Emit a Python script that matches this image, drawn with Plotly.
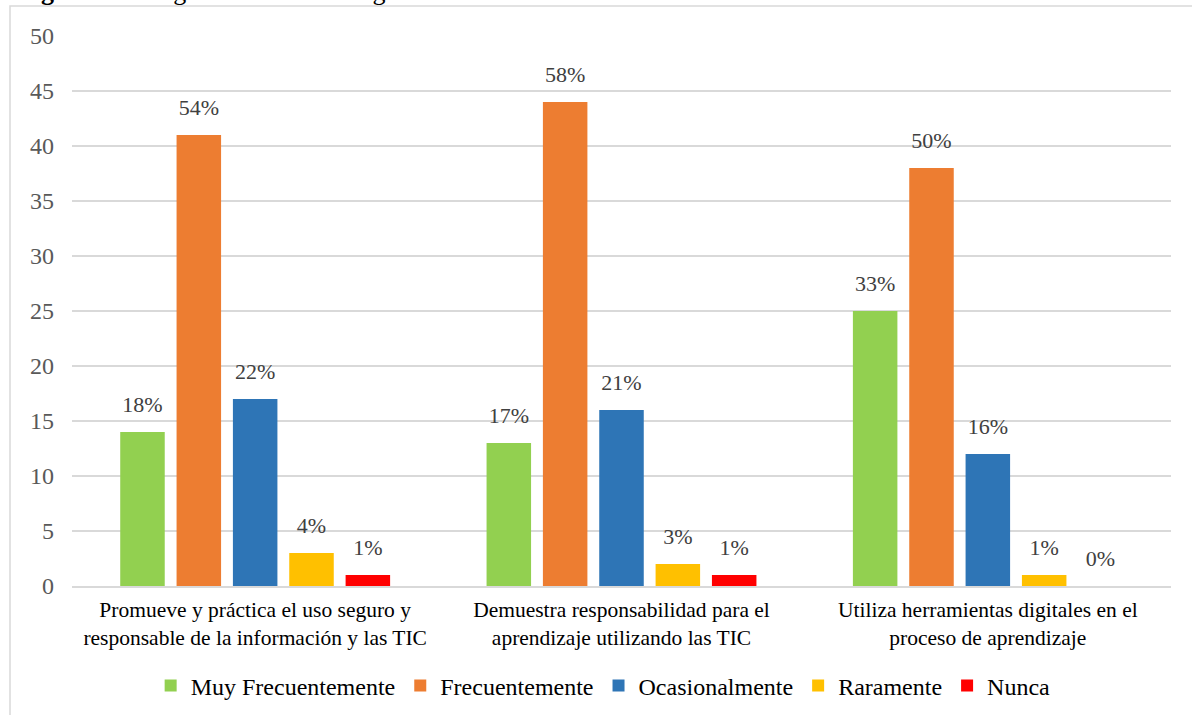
import plotly.graph_objects as go

categories = [
    "Promueve y práctica el uso seguro y<br>responsable de la información y las TIC",
    "Demuestra responsabilidad para el<br>aprendizaje utilizando las TIC",
    "Utiliza herramientas digitales en el<br>proceso de aprendizaje",
]
series_names = ["Muy Frecuentemente", "Frecuentemente", "Ocasionalmente", "Raramente", "Nunca"]
values = {
    "Muy Frecuentemente": [14, 13, 25],
    "Frecuentemente": [41, 44, 38],
    "Ocasionalmente": [17, 16, 12],
    "Raramente": [3, 2, 1],
    "Nunca": [1, 1, 0],
}
percent_labels = {
    "Muy Frecuentemente": ["18%", "17%", "33%"],
    "Frecuentemente": ["54%", "58%", "50%"],
    "Ocasionalmente": ["22%", "21%", "16%"],
    "Raramente": ["4%", "3%", "1%"],
    "Nunca": ["1%", "1%", "0%"],
}
colors = ["#92D050", "#ED7D31", "#2E75B6", "#FFC000", "#FF0000"]
y_ticks = [0, 5, 10, 15, 20, 25, 30, 35, 40, 45, 50]

FONT = "Liberation Serif"
L, R, T, B = 72, 21, 36, 129
W, H = 1192, 715
PW, PH = W - L - R, H - T - B
BARGAP = 0.231

fig = go.Figure()
for i, (name, color) in enumerate(zip(series_names, colors)):
    fig.add_trace(go.Bar(
        name=name,
        x=categories,
        y=values[name],
        offsetgroup=str(i),
        marker=dict(color=color, line=dict(width=0)),
        hoverinfo="skip",
    ))
for i, name in enumerate(series_names):
    fig.add_trace(go.Scatter(
        x=categories,
        y=values[name],
        offsetgroup=str(i),
        mode="markers+text",
        marker=dict(size=22, opacity=0),
        text=percent_labels[name],
        textposition="top center",
        textfont=dict(family=FONT, size=22, color="#404040"),
        cliponaxis=False,
        showlegend=False,
        hoverinfo="skip",
    ))

fig.update_layout(
    width=W,
    height=H,
    barmode="group",
    scattermode="group",
    bargap=BARGAP,
    scattergap=BARGAP,
    bargroupgap=0.21,
    plot_bgcolor="white",
    paper_bgcolor="white",
    margin=dict(l=L, r=R, t=T, b=B),
    font=dict(family=FONT, color="#404040"),
    legend=dict(
        orientation="h",
        xref="container", yref="container",
        x=0.506, xanchor="center",
        y=(H - 686) / H, yanchor="middle",
        font=dict(family=FONT, size=24, color="#000000"),
        itemwidth=30,
        traceorder="normal",
    ),
    xaxis=dict(
        automargin=False,
        showgrid=False,
        showline=True,
        linecolor="#D9D9D9",
        linewidth=1.5,
        ticks="",
        ticklabelstandoff=3,
        tickfont=dict(family=FONT, size=21.5, color="#000000"),
    ),
    yaxis=dict(
        automargin=False,
        range=[0, 50],
        tickvals=y_ticks,
        showgrid=True,
        gridcolor="#D9D9D9",
        gridwidth=1.5,
        zeroline=False,
        ticks="",
        ticklabelstandoff=17,
        tickfont=dict(family=FONT, size=24, color="#595959"),
    ),
    showlegend=True,
)

# outer chart border
fig.add_shape(
    type="rect", xref="paper", yref="paper",
    x0=(10 - L) / PW, x1=(W + 10 - L) / PW,
    y0=-(B + 10) / PH, y1=(PH + T - 6) / PH,
    line=dict(color="#D9D9D9", width=1.5), fillcolor="rgba(0,0,0,0)", layer="below",
)

fig.add_annotation(
    text="<b>Figura 1.</b> Categoría ciudadanía digital",
    xref="paper", yref="paper",
    x=(16 - L) / PW, xanchor="left",
    y=(PH + T - 8) / PH, yanchor="bottom",
    showarrow=False,
    font=dict(family=FONT, size=26, color="#000000"),
)

fig.write_html(
    "out.html",
    config={"displayModeBar": False},
    post_script="document.body.style.margin='0';document.body.style.overflow='hidden';",
)
